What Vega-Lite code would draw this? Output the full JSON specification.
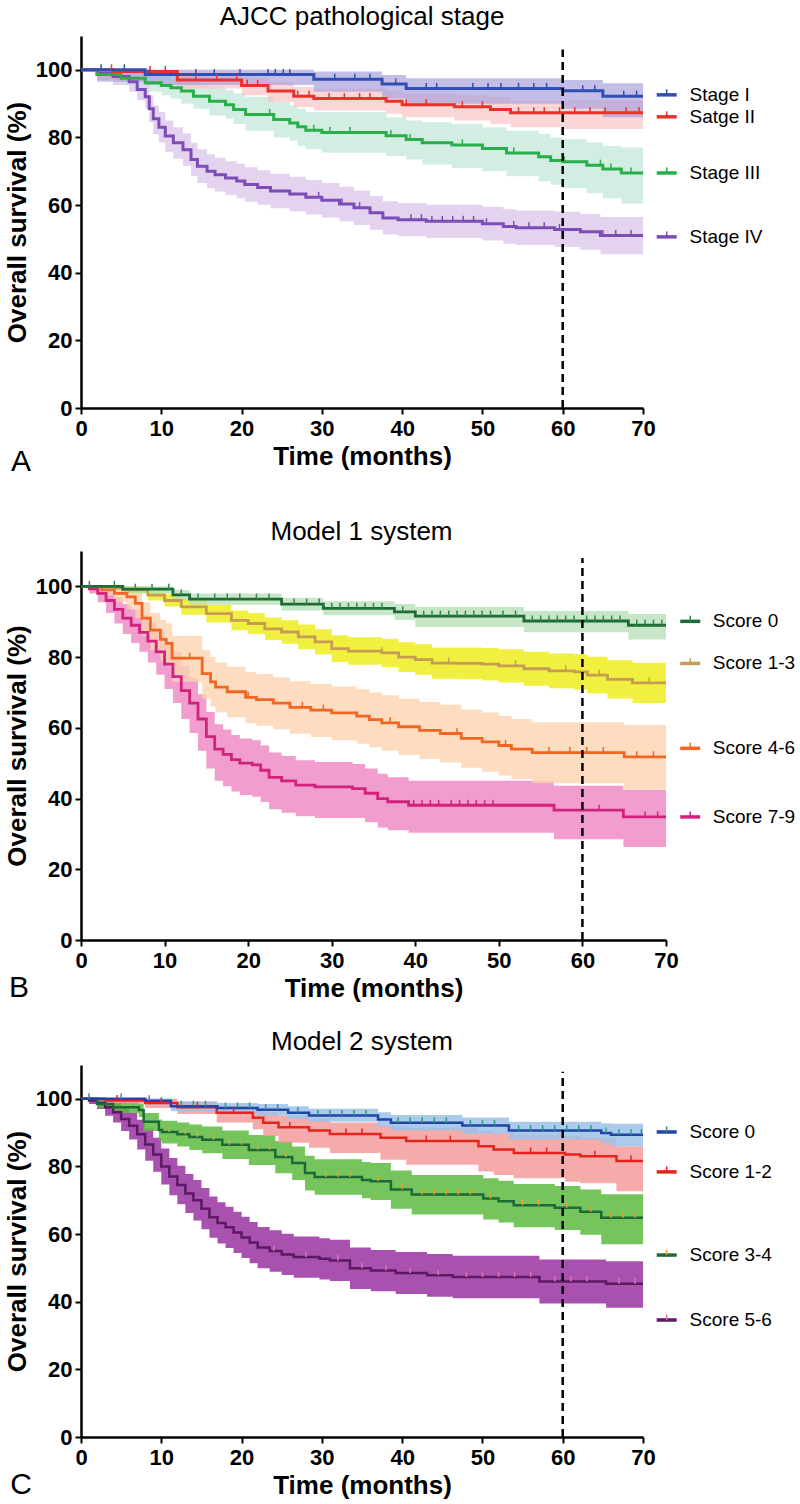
{
"$schema": "https://vega.github.io/schema/vega-lite/v6.json",
"padding": {"left": 4, "top": 4, "right": 0, "bottom": 2},
"config": {
  "font": "Liberation Sans",
  "view": {"stroke": null},
  "title": {"font": "Liberation Sans", "fontSize": 26, "fontWeight": "normal", "color": "black", "anchor": "middle"},
  "axis": {"grid": false, "domainColor": "black", "domainWidth": 2.5, "tickColor": "black", "tickWidth": 2, "tickSize": 6,
    "labelFont": "Liberation Sans", "labelFontSize": 22, "labelFontWeight": "bold", "labelColor": "black",
    "titleFont": "Liberation Sans", "titleFontSize": 26, "titleFontWeight": "bold", "titleColor": "black"}
},
"datasets": {
"A": [
{"series":"Stage IV","t":0,"s":100,"lo":100,"hi":100},{"series":"Stage IV","t":2,"s":99,"lo":97,"hi":100},{"series":"Stage IV","t":4,"s":98,"lo":95.5,"hi":100},{"series":"Stage IV","t":6,"s":96.5,"lo":93.5,"hi":99.5},{"series":"Stage IV","t":7,"s":94.2,"lo":91,"hi":97.5},{"series":"Stage IV","t":8,"s":92,"lo":88.5,"hi":95.5},{"series":"Stage IV","t":8.5,"s":88.5,"lo":84.5,"hi":92.5},{"series":"Stage IV","t":9,"s":85.5,"lo":81,"hi":89.5},{"series":"Stage IV","t":9.7,"s":83,"lo":78.5,"hi":87.5},{"series":"Stage IV","t":10.5,"s":80.4,"lo":75.8,"hi":85},{"series":"Stage IV","t":11.5,"s":78.4,"lo":73.7,"hi":83},{"series":"Stage IV","t":12.7,"s":76.4,"lo":71.6,"hi":81.2},{"series":"Stage IV","t":13.7,"s":73.5,"lo":68.6,"hi":78.4},{"series":"Stage IV","t":14.5,"s":71.5,"lo":66.5,"hi":76.5},{"series":"Stage IV","t":15.7,"s":70,"lo":65,"hi":75},{"series":"Stage IV","t":16.7,"s":69,"lo":64,"hi":74},{"series":"Stage IV","t":18,"s":68,"lo":63,"hi":73},{"series":"Stage IV","t":19.4,"s":67.1,"lo":62,"hi":72.2},{"series":"Stage IV","t":20.4,"s":66.1,"lo":61,"hi":71.2},{"series":"Stage IV","t":22,"s":65.2,"lo":60.1,"hi":70.3},{"series":"Stage IV","t":23.6,"s":64.2,"lo":59.1,"hi":69.3},{"series":"Stage IV","t":26,"s":63.3,"lo":58.2,"hi":68.4},{"series":"Stage IV","t":28,"s":62.3,"lo":57.2,"hi":67.4},{"series":"Stage IV","t":30,"s":61.4,"lo":56.3,"hi":66.5},{"series":"Stage IV","t":32.2,"s":60.3,"lo":55.2,"hi":65.4},{"series":"Stage IV","t":34,"s":59.2,"lo":54.1,"hi":64.3},{"series":"Stage IV","t":36,"s":57.7,"lo":52.7,"hi":62.7},{"series":"Stage IV","t":37.6,"s":56.2,"lo":51.3,"hi":61.1},{"series":"Stage IV","t":39.5,"s":55.7,"lo":50.8,"hi":60.6},{"series":"Stage IV","t":43,"s":55.2,"lo":50.3,"hi":60.1},{"series":"Stage IV","t":50,"s":54.5,"lo":49.5,"hi":59.5},{"series":"Stage IV","t":52.6,"s":53.7,"lo":48.6,"hi":58.8},{"series":"Stage IV","t":54.2,"s":53.3,"lo":48.2,"hi":58.4},{"series":"Stage IV","t":59,"s":52.8,"lo":47.6,"hi":58},{"series":"Stage IV","t":62.2,"s":52.1,"lo":46.8,"hi":57.4},{"series":"Stage IV","t":64.7,"s":51,"lo":45.5,"hi":56.5},{"series":"Stage IV","t":70,"s":51,"lo":45.5,"hi":56.5},
{"series":"Stage III","t":0,"s":100,"lo":100,"hi":100},{"series":"Stage III","t":2,"s":98.6,"lo":97,"hi":99.8},{"series":"Stage III","t":5,"s":97.5,"lo":95.5,"hi":99.3},{"series":"Stage III","t":8,"s":96.2,"lo":93.5,"hi":98.5},{"series":"Stage III","t":10,"s":95.4,"lo":92.5,"hi":98},{"series":"Stage III","t":11.2,"s":94.7,"lo":91.5,"hi":97.5},{"series":"Stage III","t":12.5,"s":93.7,"lo":90,"hi":97},{"series":"Stage III","t":14,"s":92.2,"lo":88.5,"hi":96},{"series":"Stage III","t":16,"s":90.7,"lo":86.5,"hi":95},{"series":"Stage III","t":18,"s":89.7,"lo":85.5,"hi":94},{"series":"Stage III","t":19,"s":88.3,"lo":84,"hi":93},{"series":"Stage III","t":20.5,"s":86.8,"lo":82,"hi":92},{"series":"Stage III","t":24,"s":85.3,"lo":80,"hi":90.5},{"series":"Stage III","t":26,"s":84.3,"lo":79,"hi":89.5},{"series":"Stage III","t":27,"s":83.2,"lo":77.5,"hi":88.5},{"series":"Stage III","t":28,"s":82.1,"lo":76.5,"hi":87.5},{"series":"Stage III","t":30,"s":81.5,"lo":75.5,"hi":87.5},{"series":"Stage III","t":38,"s":80.5,"lo":74.5,"hi":86},{"series":"Stage III","t":40.5,"s":79.4,"lo":73.5,"hi":85},{"series":"Stage III","t":42.5,"s":78.4,"lo":72,"hi":84.5},{"series":"Stage III","t":46.2,"s":77.8,"lo":71,"hi":84},{"series":"Stage III","t":50,"s":76.7,"lo":70,"hi":83},{"series":"Stage III","t":53,"s":75.4,"lo":68.5,"hi":82},{"series":"Stage III","t":57,"s":74.3,"lo":67,"hi":81},{"series":"Stage III","t":58.5,"s":73.2,"lo":66,"hi":80},{"series":"Stage III","t":60,"s":72.8,"lo":65,"hi":79.5},{"series":"Stage III","t":63,"s":71.8,"lo":63.5,"hi":78.5},{"series":"Stage III","t":65,"s":70.7,"lo":62,"hi":77.5},{"series":"Stage III","t":67.3,"s":69.5,"lo":60.5,"hi":77},{"series":"Stage III","t":70,"s":69.5,"lo":60.5,"hi":77},
{"series":"Satge II","t":0,"s":100,"lo":100,"hi":100},{"series":"Satge II","t":4,"s":99.5,"lo":98,"hi":100},{"series":"Satge II","t":12,"s":97,"lo":94.5,"hi":99},{"series":"Satge II","t":20,"s":95.4,"lo":92.5,"hi":97.8},{"series":"Satge II","t":23.3,"s":93.7,"lo":90.5,"hi":96.5},{"series":"Satge II","t":26.5,"s":92.2,"lo":89,"hi":95},{"series":"Satge II","t":29,"s":91.5,"lo":88,"hi":94.5},{"series":"Satge II","t":38,"s":90.7,"lo":87,"hi":93.8},{"series":"Satge II","t":40,"s":89.7,"lo":86,"hi":93},{"series":"Satge II","t":46.5,"s":89.1,"lo":85,"hi":92.5},{"series":"Satge II","t":51,"s":88.3,"lo":84,"hi":92},{"series":"Satge II","t":53.5,"s":87.3,"lo":83,"hi":91},{"series":"Satge II","t":60,"s":87.3,"lo":82.5,"hi":91},{"series":"Satge II","t":70,"s":87.3,"lo":82.5,"hi":91},
{"series":"Stage I","t":0,"s":100,"lo":100,"hi":100},{"series":"Stage I","t":2,"s":100,"lo":96.5,"hi":100},{"series":"Stage I","t":8,"s":98.6,"lo":95.5,"hi":100},{"series":"Stage I","t":29,"s":97.2,"lo":93.5,"hi":99.5},{"series":"Stage I","t":37.5,"s":95.8,"lo":91.5,"hi":98.5},{"series":"Stage I","t":40.5,"s":94.5,"lo":90,"hi":97.5},{"series":"Stage I","t":60,"s":93.8,"lo":88.5,"hi":97},{"series":"Stage I","t":65,"s":92.2,"lo":86,"hi":96},{"series":"Stage I","t":70,"s":92.2,"lo":86,"hi":96}
],
"Ac": [
{"series":"Stage I","t":2.5,"s":100},{"series":"Stage I","t":5.4,"s":100},{"series":"Stage I","t":8.5,"s":98.6},{"series":"Stage I","t":14.3,"s":98.6},{"series":"Stage I","t":16.6,"s":98.6},{"series":"Stage I","t":19.8,"s":98.6},{"series":"Stage I","t":23.3,"s":98.6},{"series":"Stage I","t":24.2,"s":98.6},{"series":"Stage I","t":25.2,"s":98.6},{"series":"Stage I","t":26,"s":98.6},{"series":"Stage I","t":31.6,"s":97.2},{"series":"Stage I","t":34.1,"s":97.2},{"series":"Stage I","t":36,"s":97.2},{"series":"Stage I","t":39.2,"s":95.8},{"series":"Stage I","t":43,"s":94.5},{"series":"Stage I","t":44.3,"s":94.5},{"series":"Stage I","t":48.8,"s":94.5},{"series":"Stage I","t":50.7,"s":94.5},{"series":"Stage I","t":52.3,"s":94.5},{"series":"Stage I","t":54.5,"s":94.5},{"series":"Stage I","t":56.4,"s":94.5},{"series":"Stage I","t":58,"s":94.5},{"series":"Stage I","t":62.5,"s":93.8},{"series":"Stage I","t":64,"s":93.8},{"series":"Stage I","t":67.6,"s":92.2},{"series":"Stage I","t":69.2,"s":92.2},
{"series":"Satge II","t":3.8,"s":100},{"series":"Satge II","t":8.6,"s":99.5},{"series":"Satge II","t":10.5,"s":99.5},{"series":"Satge II","t":14.3,"s":97},{"series":"Satge II","t":16.9,"s":97},{"series":"Satge II","t":19.4,"s":97},{"series":"Satge II","t":20.7,"s":95.4},{"series":"Satge II","t":22,"s":95.4},{"series":"Satge II","t":27,"s":92.2},{"series":"Satge II","t":28.4,"s":92.2},{"series":"Satge II","t":30.9,"s":91.5},{"series":"Satge II","t":32.8,"s":91.5},{"series":"Satge II","t":34.7,"s":91.5},{"series":"Satge II","t":36,"s":91.5},{"series":"Satge II","t":40.5,"s":89.7},{"series":"Satge II","t":43,"s":89.7},{"series":"Satge II","t":47.5,"s":89.1},{"series":"Satge II","t":50,"s":89.1},{"series":"Satge II","t":54.5,"s":87.3},{"series":"Satge II","t":56.4,"s":87.3},{"series":"Satge II","t":57.7,"s":87.3},{"series":"Satge II","t":59.6,"s":87.3},{"series":"Satge II","t":61.5,"s":87.3},{"series":"Satge II","t":63.4,"s":87.3},{"series":"Satge II","t":65.3,"s":87.3},{"series":"Satge II","t":67.9,"s":87.3},{"series":"Satge II","t":69.5,"s":87.3},
{"series":"Stage III","t":23.5,"s":86.8},{"series":"Stage III","t":29,"s":82.1},{"series":"Stage III","t":31,"s":81.5},{"series":"Stage III","t":33.5,"s":81.5},{"series":"Stage III","t":38.6,"s":80.5},{"series":"Stage III","t":41,"s":79.4},{"series":"Stage III","t":47.5,"s":77.8},{"series":"Stage III","t":53.9,"s":75.4},{"series":"Stage III","t":60.2,"s":72.8},{"series":"Stage III","t":64.7,"s":71.8},{"series":"Stage III","t":66,"s":70.7},{"series":"Stage III","t":68.5,"s":69.5},
{"series":"Stage IV","t":29.6,"s":62.3},{"series":"Stage IV","t":32.5,"s":60.3},{"series":"Stage IV","t":34.7,"s":59.2},{"series":"Stage IV","t":41.1,"s":55.7},{"series":"Stage IV","t":42.4,"s":55.7},{"series":"Stage IV","t":43.7,"s":55.2},{"series":"Stage IV","t":45,"s":55.2},{"series":"Stage IV","t":46.3,"s":55.2},{"series":"Stage IV","t":47.6,"s":55.2},{"series":"Stage IV","t":48.9,"s":55.2},{"series":"Stage IV","t":50.5,"s":54.5},{"series":"Stage IV","t":53.9,"s":53.7},{"series":"Stage IV","t":55.8,"s":53.3},{"series":"Stage IV","t":57.7,"s":53.3},{"series":"Stage IV","t":59.6,"s":52.8},{"series":"Stage IV","t":65,"s":51},{"series":"Stage IV","t":66.6,"s":51},{"series":"Stage IV","t":68.5,"s":51}
],
"Al": [
{"series":"Stage I","level":92.6},{"series":"Satge II","level":86.1},{"series":"Stage III","level":69.5},{"series":"Stage IV","level":50.6}
],
"B": [
{"series":"Score 7-9","t":0,"s":100,"lo":100,"hi":100},{"series":"Score 7-9","t":1,"s":99.3,"lo":98,"hi":100},{"series":"Score 7-9","t":2,"s":98,"lo":95.5,"hi":100},{"series":"Score 7-9","t":3,"s":96,"lo":92.5,"hi":99},{"series":"Score 7-9","t":4,"s":93.5,"lo":89.5,"hi":97},{"series":"Score 7-9","t":5,"s":91,"lo":86.5,"hi":95},{"series":"Score 7-9","t":6,"s":89,"lo":84,"hi":93.5},{"series":"Score 7-9","t":7,"s":87,"lo":81.5,"hi":92},{"series":"Score 7-9","t":8,"s":84.5,"lo":78.5,"hi":90},{"series":"Score 7-9","t":9,"s":81.5,"lo":75,"hi":87.5},{"series":"Score 7-9","t":10,"s":78,"lo":71,"hi":84.5},{"series":"Score 7-9","t":11,"s":74.5,"lo":67,"hi":81.5},{"series":"Score 7-9","t":12,"s":70.5,"lo":62.5,"hi":77.5},{"series":"Score 7-9","t":13,"s":67,"lo":58.5,"hi":74},{"series":"Score 7-9","t":14,"s":62.5,"lo":53.5,"hi":69.5},{"series":"Score 7-9","t":15,"s":57.5,"lo":48.5,"hi":64.5},{"series":"Score 7-9","t":16,"s":54,"lo":45,"hi":61},{"series":"Score 7-9","t":17,"s":52.5,"lo":43.5,"hi":59.5},{"series":"Score 7-9","t":18,"s":51,"lo":42,"hi":58},{"series":"Score 7-9","t":19,"s":50,"lo":41,"hi":57},{"series":"Score 7-9","t":20.5,"s":49.5,"lo":40.5,"hi":56.5},{"series":"Score 7-9","t":21.5,"s":48,"lo":39,"hi":55},{"series":"Score 7-9","t":22.5,"s":46,"lo":37,"hi":53},{"series":"Score 7-9","t":24,"s":45,"lo":36,"hi":52},{"series":"Score 7-9","t":25.7,"s":43.8,"lo":35,"hi":50.8},{"series":"Score 7-9","t":28,"s":43.3,"lo":34.5,"hi":50.3},{"series":"Score 7-9","t":32.5,"s":42.8,"lo":34.5,"hi":49.8},{"series":"Score 7-9","t":34,"s":41.5,"lo":33.3,"hi":48.5},{"series":"Score 7-9","t":35.5,"s":40,"lo":31.8,"hi":47},{"series":"Score 7-9","t":36.7,"s":39.1,"lo":31,"hi":46},{"series":"Score 7-9","t":39.2,"s":38.1,"lo":30.3,"hi":45},{"series":"Score 7-9","t":56.6,"s":36.7,"lo":28.5,"hi":43.6},{"series":"Score 7-9","t":64.9,"s":34.8,"lo":26.3,"hi":42.4},{"series":"Score 7-9","t":70,"s":34.8,"lo":26.3,"hi":42.4},
{"series":"Score 4-6","t":0,"s":100,"lo":100,"hi":100},{"series":"Score 4-6","t":2.5,"s":99,"lo":97.5,"hi":100},{"series":"Score 4-6","t":4,"s":98,"lo":95.5,"hi":100},{"series":"Score 4-6","t":5.5,"s":97,"lo":93.5,"hi":99.5},{"series":"Score 4-6","t":6.5,"s":95.2,"lo":91,"hi":98.5},{"series":"Score 4-6","t":7.3,"s":91,"lo":86,"hi":95.5},{"series":"Score 4-6","t":8.3,"s":87.6,"lo":82,"hi":92.5},{"series":"Score 4-6","t":9.5,"s":85,"lo":79,"hi":90.5},{"series":"Score 4-6","t":10.2,"s":83.9,"lo":77.5,"hi":89.5},{"series":"Score 4-6","t":10.9,"s":79.7,"lo":73,"hi":86},{"series":"Score 4-6","t":14.5,"s":75.3,"lo":68.3,"hi":82},{"series":"Score 4-6","t":15.5,"s":73,"lo":66,"hi":80},{"series":"Score 4-6","t":16.1,"s":71.5,"lo":64.3,"hi":78.5},{"series":"Score 4-6","t":17.5,"s":70.2,"lo":63,"hi":77.3},{"series":"Score 4-6","t":19.7,"s":68.6,"lo":61.3,"hi":75.8},{"series":"Score 4-6","t":21,"s":68,"lo":60.6,"hi":75.2},{"series":"Score 4-6","t":23,"s":67,"lo":59.6,"hi":74.3},{"series":"Score 4-6","t":25,"s":65.8,"lo":58.3,"hi":73.2},{"series":"Score 4-6","t":27.5,"s":65,"lo":57.4,"hi":72.4},{"series":"Score 4-6","t":30,"s":64.2,"lo":56.5,"hi":71.7},{"series":"Score 4-6","t":33,"s":63.3,"lo":55.5,"hi":70.9},{"series":"Score 4-6","t":34.5,"s":62.3,"lo":54.5,"hi":70},{"series":"Score 4-6","t":36,"s":61.4,"lo":53.5,"hi":69.2},{"series":"Score 4-6","t":38,"s":60.3,"lo":52.3,"hi":68.2},{"series":"Score 4-6","t":40.5,"s":59.3,"lo":51.2,"hi":67.3},{"series":"Score 4-6","t":43,"s":58.4,"lo":50.2,"hi":66.5},{"series":"Score 4-6","t":45.5,"s":57,"lo":48.7,"hi":65.2},{"series":"Score 4-6","t":48,"s":56,"lo":47.6,"hi":64.3},{"series":"Score 4-6","t":50,"s":55,"lo":46.5,"hi":63.4},{"series":"Score 4-6","t":51.5,"s":54,"lo":45.5,"hi":62.5},{"series":"Score 4-6","t":54,"s":53,"lo":44.3,"hi":61.6},{"series":"Score 4-6","t":65,"s":51.8,"lo":42.5,"hi":60.8},{"series":"Score 4-6","t":70,"s":51.8,"lo":42.5,"hi":60.8},
{"series":"Score 1-3","t":0,"s":100,"lo":100,"hi":100},{"series":"Score 1-3","t":3,"s":99.5,"lo":99,"hi":100},{"series":"Score 1-3","t":5,"s":99,"lo":98,"hi":100},{"series":"Score 1-3","t":8,"s":97.5,"lo":96,"hi":99},{"series":"Score 1-3","t":10,"s":96,"lo":94.3,"hi":97.8},{"series":"Score 1-3","t":12,"s":94.2,"lo":92,"hi":96.5},{"series":"Score 1-3","t":15,"s":92.3,"lo":89.8,"hi":94.8},{"series":"Score 1-3","t":18,"s":90.4,"lo":87.6,"hi":93.2},{"series":"Score 1-3","t":20,"s":89.5,"lo":86.5,"hi":92.5},{"series":"Score 1-3","t":22,"s":88,"lo":84.8,"hi":91.2},{"series":"Score 1-3","t":24,"s":87.1,"lo":83.8,"hi":90.4},{"series":"Score 1-3","t":26,"s":85.7,"lo":82.2,"hi":89.2},{"series":"Score 1-3","t":28,"s":84.3,"lo":80.7,"hi":87.9},{"series":"Score 1-3","t":30,"s":82.4,"lo":78.6,"hi":86.2},{"series":"Score 1-3","t":32,"s":81.7,"lo":77.8,"hi":85.6},{"series":"Score 1-3","t":36,"s":81.2,"lo":77.2,"hi":85.2},{"series":"Score 1-3","t":38,"s":80,"lo":75.8,"hi":84.2},{"series":"Score 1-3","t":40,"s":79.3,"lo":75,"hi":83.6},{"series":"Score 1-3","t":42,"s":78.3,"lo":73.9,"hi":82.7},{"series":"Score 1-3","t":45,"s":78.2,"lo":73.7,"hi":82.7},{"series":"Score 1-3","t":48,"s":78,"lo":73.4,"hi":82.6},{"series":"Score 1-3","t":50,"s":77.5,"lo":72.8,"hi":82.2},{"series":"Score 1-3","t":53,"s":76.7,"lo":71.9,"hi":81.5},{"series":"Score 1-3","t":56,"s":76.1,"lo":71.2,"hi":81},{"series":"Score 1-3","t":59,"s":75.8,"lo":70.8,"hi":80.8},{"series":"Score 1-3","t":60.6,"s":74.9,"lo":69.7,"hi":80.1},{"series":"Score 1-3","t":63,"s":73.7,"lo":68.3,"hi":79.1},{"series":"Score 1-3","t":66,"s":72.7,"lo":67,"hi":78.4},{"series":"Score 1-3","t":70,"s":72.7,"lo":67,"hi":78.4},
{"series":"Score 0","t":0,"s":100,"lo":100,"hi":100},{"series":"Score 0","t":5,"s":99.2,"lo":98,"hi":100},{"series":"Score 0","t":11,"s":97.6,"lo":96,"hi":99},{"series":"Score 0","t":13,"s":96.4,"lo":94.8,"hi":98},{"series":"Score 0","t":24,"s":95,"lo":93.2,"hi":96.8},{"series":"Score 0","t":29,"s":93.8,"lo":91.8,"hi":95.8},{"series":"Score 0","t":37.5,"s":92.8,"lo":90.5,"hi":95},{"series":"Score 0","t":40,"s":91.6,"lo":88.5,"hi":94.2},{"series":"Score 0","t":53,"s":90.2,"lo":87,"hi":93},{"series":"Score 0","t":65.5,"s":89,"lo":85,"hi":92.2},{"series":"Score 0","t":70,"s":89,"lo":85,"hi":92.2}
],
"Bc": [
{"series":"Score 0","t":1,"s":100},{"series":"Score 0","t":4,"s":100},{"series":"Score 0","t":6.5,"s":99.2},{"series":"Score 0","t":8.5,"s":99.2},{"series":"Score 0","t":10.5,"s":99.2},{"series":"Score 0","t":12,"s":97.6},{"series":"Score 0","t":14,"s":96.4},{"series":"Score 0","t":16,"s":96.4},{"series":"Score 0","t":17.5,"s":96.4},{"series":"Score 0","t":19,"s":96.4},{"series":"Score 0","t":21,"s":96.4},{"series":"Score 0","t":22.5,"s":96.4},{"series":"Score 0","t":25.5,"s":95},{"series":"Score 0","t":27,"s":95},{"series":"Score 0","t":28.5,"s":95},{"series":"Score 0","t":30,"s":93.8},{"series":"Score 0","t":31,"s":93.8},{"series":"Score 0","t":32,"s":93.8},{"series":"Score 0","t":33,"s":93.8},{"series":"Score 0","t":34,"s":93.8},{"series":"Score 0","t":35,"s":93.8},{"series":"Score 0","t":36,"s":93.8},{"series":"Score 0","t":38.5,"s":92.8},{"series":"Score 0","t":41,"s":91.6},{"series":"Score 0","t":42,"s":91.6},{"series":"Score 0","t":43,"s":91.6},{"series":"Score 0","t":44,"s":91.6},{"series":"Score 0","t":45,"s":91.6},{"series":"Score 0","t":46,"s":91.6},{"series":"Score 0","t":47,"s":91.6},{"series":"Score 0","t":48,"s":91.6},{"series":"Score 0","t":49,"s":91.6},{"series":"Score 0","t":50.5,"s":91.6},{"series":"Score 0","t":52,"s":91.6},{"series":"Score 0","t":54,"s":90.2},{"series":"Score 0","t":55,"s":90.2},{"series":"Score 0","t":56,"s":90.2},{"series":"Score 0","t":57,"s":90.2},{"series":"Score 0","t":58,"s":90.2},{"series":"Score 0","t":59,"s":90.2},{"series":"Score 0","t":60.5,"s":90.2},{"series":"Score 0","t":61.5,"s":90.2},{"series":"Score 0","t":62.5,"s":90.2},{"series":"Score 0","t":63.5,"s":90.2},{"series":"Score 0","t":64.5,"s":90.2},{"series":"Score 0","t":66.5,"s":89},{"series":"Score 0","t":67.5,"s":89},{"series":"Score 0","t":68.5,"s":89},{"series":"Score 0","t":69.5,"s":89},
{"series":"Score 1-3","t":28,"s":84.3},{"series":"Score 1-3","t":36,"s":81.2},{"series":"Score 1-3","t":44,"s":78.3},{"series":"Score 1-3","t":52,"s":77.5},{"series":"Score 1-3","t":58,"s":76.1},{"series":"Score 1-3","t":62,"s":74.9},{"series":"Score 1-3","t":68,"s":72.7},
{"series":"Score 4-6","t":13,"s":79.7},{"series":"Score 4-6","t":20,"s":68.6},{"series":"Score 4-6","t":26.5,"s":65.8},{"series":"Score 4-6","t":29,"s":65},{"series":"Score 4-6","t":37,"s":61.4},{"series":"Score 4-6","t":45,"s":58.4},{"series":"Score 4-6","t":50.8,"s":55},{"series":"Score 4-6","t":56,"s":53},{"series":"Score 4-6","t":58.5,"s":53},{"series":"Score 4-6","t":60.5,"s":53},{"series":"Score 4-6","t":62.5,"s":53},{"series":"Score 4-6","t":66.5,"s":51.8},{"series":"Score 4-6","t":68.5,"s":51.8},
{"series":"Score 7-9","t":39.8,"s":38.1},{"series":"Score 7-9","t":40.8,"s":38.1},{"series":"Score 7-9","t":41.8,"s":38.1},{"series":"Score 7-9","t":42.8,"s":38.1},{"series":"Score 7-9","t":44.3,"s":38.1},{"series":"Score 7-9","t":45.3,"s":38.1},{"series":"Score 7-9","t":46.3,"s":38.1},{"series":"Score 7-9","t":47.3,"s":38.1},{"series":"Score 7-9","t":48.3,"s":38.1},{"series":"Score 7-9","t":49.3,"s":38.1},{"series":"Score 7-9","t":62,"s":36.7},{"series":"Score 7-9","t":67.5,"s":34.8},{"series":"Score 7-9","t":69,"s":34.8}
],
"Bl": [
{"series":"Score 0","level":90.1},{"series":"Score 1-3","level":78.2},{"series":"Score 4-6","level":54.2},{"series":"Score 7-9","level":34.8}
],
"C": [
{"series":"Score 5-6","t":0,"s":100,"lo":100,"hi":100},{"series":"Score 5-6","t":1,"s":99.5,"lo":98.5,"hi":100},{"series":"Score 5-6","t":2,"s":98.8,"lo":97,"hi":100},{"series":"Score 5-6","t":3,"s":97.5,"lo":95,"hi":99.5},{"series":"Score 5-6","t":4,"s":96,"lo":93,"hi":98.8},{"series":"Score 5-6","t":5,"s":94,"lo":90.5,"hi":97.3},{"series":"Score 5-6","t":6,"s":92,"lo":88,"hi":95.8},{"series":"Score 5-6","t":7,"s":89.5,"lo":85,"hi":93.8},{"series":"Score 5-6","t":8,"s":86.5,"lo":81.7,"hi":91.2},{"series":"Score 5-6","t":9,"s":83.5,"lo":78.4,"hi":88.5},{"series":"Score 5-6","t":10,"s":80,"lo":74.7,"hi":85.3},{"series":"Score 5-6","t":11,"s":77,"lo":71.5,"hi":82.5},{"series":"Score 5-6","t":12,"s":74.5,"lo":68.8,"hi":80.2},{"series":"Score 5-6","t":13,"s":72,"lo":66.2,"hi":77.8},{"series":"Score 5-6","t":14,"s":70,"lo":64,"hi":76},{"series":"Score 5-6","t":15,"s":67.5,"lo":61.4,"hi":73.6},{"series":"Score 5-6","t":16,"s":65,"lo":58.9,"hi":71.1},{"series":"Score 5-6","t":17,"s":63.3,"lo":57.2,"hi":69.4},{"series":"Score 5-6","t":18,"s":62,"lo":55.9,"hi":68.1},{"series":"Score 5-6","t":19,"s":60.5,"lo":54.4,"hi":66.6},{"series":"Score 5-6","t":20,"s":59,"lo":52.9,"hi":65.1},{"series":"Score 5-6","t":21,"s":57.5,"lo":51.4,"hi":63.6},{"series":"Score 5-6","t":22,"s":56,"lo":49.9,"hi":62.1},{"series":"Score 5-6","t":23.5,"s":55,"lo":48.9,"hi":61.1},{"series":"Score 5-6","t":25,"s":54,"lo":47.9,"hi":60.1},{"series":"Score 5-6","t":26.5,"s":53.2,"lo":47.1,"hi":59.3},{"series":"Score 5-6","t":29.7,"s":52.7,"lo":46.6,"hi":58.8},{"series":"Score 5-6","t":31,"s":52.2,"lo":46.1,"hi":58.3},{"series":"Score 5-6","t":33.5,"s":49.9,"lo":43.8,"hi":56},{"series":"Score 5-6","t":36.1,"s":49.2,"lo":43.1,"hi":55.3},{"series":"Score 5-6","t":39.2,"s":48.5,"lo":42.3,"hi":54.7},{"series":"Score 5-6","t":43.1,"s":47.8,"lo":41.5,"hi":54.1},{"series":"Score 5-6","t":46.3,"s":47.3,"lo":41,"hi":53.6},{"series":"Score 5-6","t":57.1,"s":46,"lo":39.5,"hi":52.5},{"series":"Score 5-6","t":65.4,"s":45.3,"lo":38.2,"hi":52},{"series":"Score 5-6","t":70,"s":45.3,"lo":38.2,"hi":52},
{"series":"Score 3-4","t":0,"s":100,"lo":100,"hi":100},{"series":"Score 3-4","t":2,"s":98.5,"lo":97.3,"hi":99.6},{"series":"Score 3-4","t":4,"s":97.5,"lo":95.8,"hi":99.1},{"series":"Score 3-4","t":7.2,"s":96.7,"lo":94.6,"hi":98.6},{"series":"Score 3-4","t":7.8,"s":93.2,"lo":90.5,"hi":95.8},{"series":"Score 3-4","t":9.7,"s":90.8,"lo":87.6,"hi":93.9},{"series":"Score 3-4","t":10.1,"s":90.2,"lo":86.8,"hi":93.5},{"series":"Score 3-4","t":12,"s":89.5,"lo":85.9,"hi":93},{"series":"Score 3-4","t":13.5,"s":88.7,"lo":84.9,"hi":92.4},{"series":"Score 3-4","t":15.1,"s":87.9,"lo":83.9,"hi":91.8},{"series":"Score 3-4","t":17.6,"s":86.4,"lo":82.2,"hi":90.6},{"series":"Score 3-4","t":20.9,"s":84.9,"lo":80.4,"hi":89.3},{"series":"Score 3-4","t":24.2,"s":82.8,"lo":78,"hi":87.5},{"series":"Score 3-4","t":26.3,"s":81,"lo":76,"hi":85.9},{"series":"Score 3-4","t":27.9,"s":78.1,"lo":72.9,"hi":83.2},{"series":"Score 3-4","t":29.1,"s":76.9,"lo":71.6,"hi":82.1},{"series":"Score 3-4","t":35,"s":76,"lo":70.6,"hi":81.3},{"series":"Score 3-4","t":36.1,"s":75.6,"lo":70.1,"hi":81},{"series":"Score 3-4","t":38.6,"s":73.2,"lo":67.5,"hi":78.8},{"series":"Score 3-4","t":41.2,"s":71.7,"lo":65.8,"hi":77.5},{"series":"Score 3-4","t":50.1,"s":70.5,"lo":64.3,"hi":76.5},{"series":"Score 3-4","t":52,"s":69.7,"lo":63.4,"hi":75.8},{"series":"Score 3-4","t":53.9,"s":68.5,"lo":62,"hi":74.8},{"series":"Score 3-4","t":59,"s":67.8,"lo":61.2,"hi":74.2},{"series":"Score 3-4","t":62.2,"s":66.6,"lo":59.8,"hi":73.2},{"series":"Score 3-4","t":64.8,"s":64.8,"lo":57,"hi":71.8},{"series":"Score 3-4","t":70,"s":64.8,"lo":57,"hi":71.8},
{"series":"Score 1-2","t":0,"s":100,"lo":100,"hi":100},{"series":"Score 1-2","t":3,"s":99.5,"lo":98.7,"hi":100},{"series":"Score 1-2","t":8,"s":98.8,"lo":97.3,"hi":100},{"series":"Score 1-2","t":12,"s":97.5,"lo":95.5,"hi":99.2},{"series":"Score 1-2","t":16.9,"s":95.9,"lo":93,"hi":98},{"series":"Score 1-2","t":21.4,"s":94.4,"lo":91,"hi":97},{"series":"Score 1-2","t":22.7,"s":92.9,"lo":89,"hi":96},{"series":"Score 1-2","t":24.6,"s":91.6,"lo":87,"hi":95},{"series":"Score 1-2","t":28.4,"s":90.6,"lo":85.5,"hi":94},{"series":"Score 1-2","t":31,"s":89.6,"lo":84,"hi":93},{"series":"Score 1-2","t":37.3,"s":88.5,"lo":82,"hi":92},{"series":"Score 1-2","t":40.5,"s":87.5,"lo":80.5,"hi":91.5},{"series":"Score 1-2","t":49.5,"s":86,"lo":78.5,"hi":90.5},{"series":"Score 1-2","t":51.4,"s":85,"lo":77.5,"hi":90},{"series":"Score 1-2","t":53.9,"s":84,"lo":76.5,"hi":89.5},{"series":"Score 1-2","t":60.3,"s":83.5,"lo":75.5,"hi":89},{"series":"Score 1-2","t":62.2,"s":83,"lo":75,"hi":88.5},{"series":"Score 1-2","t":66.7,"s":81.6,"lo":72.7,"hi":86},{"series":"Score 1-2","t":70,"s":81.6,"lo":72.7,"hi":86},
{"series":"Score 0","t":0,"s":100,"lo":100,"hi":100},{"series":"Score 0","t":8,"s":99.4,"lo":98.3,"hi":100},{"series":"Score 0","t":11.2,"s":97.8,"lo":96.3,"hi":99.2},{"series":"Score 0","t":17,"s":97.3,"lo":95.6,"hi":98.8},{"series":"Score 0","t":22,"s":96.8,"lo":95,"hi":98.5},{"series":"Score 0","t":25.8,"s":95.9,"lo":94,"hi":97.8},{"series":"Score 0","t":28.4,"s":95.1,"lo":93.2,"hi":97.1},{"series":"Score 0","t":37,"s":93.9,"lo":91.8,"hi":96},{"series":"Score 0","t":38.6,"s":92.9,"lo":90.6,"hi":95.2},{"series":"Score 0","t":47.5,"s":92.1,"lo":89.7,"hi":94.5},{"series":"Score 0","t":53.3,"s":90.6,"lo":88,"hi":93.2},{"series":"Score 0","t":64.8,"s":89.9,"lo":86.8,"hi":92.8},{"series":"Score 0","t":66,"s":89.4,"lo":86,"hi":92.6},{"series":"Score 0","t":70,"s":89.4,"lo":86,"hi":92.6}
],
"Cc": [
{"series":"Score 0","t":1,"s":100},{"series":"Score 0","t":5,"s":100},{"series":"Score 0","t":8.5,"s":99.4},{"series":"Score 0","t":12.5,"s":97.8},{"series":"Score 0","t":14,"s":97.8},{"series":"Score 0","t":15.5,"s":97.8},{"series":"Score 0","t":18,"s":97.3},{"series":"Score 0","t":19.5,"s":97.3},{"series":"Score 0","t":21,"s":97.3},{"series":"Score 0","t":23,"s":96.8},{"series":"Score 0","t":24.5,"s":96.8},{"series":"Score 0","t":27,"s":95.9},{"series":"Score 0","t":29.5,"s":95.1},{"series":"Score 0","t":31,"s":95.1},{"series":"Score 0","t":32.5,"s":95.1},{"series":"Score 0","t":34,"s":95.1},{"series":"Score 0","t":35.5,"s":95.1},{"series":"Score 0","t":39.5,"s":92.9},{"series":"Score 0","t":41,"s":92.9},{"series":"Score 0","t":42.5,"s":92.9},{"series":"Score 0","t":44,"s":92.9},{"series":"Score 0","t":45.5,"s":92.9},{"series":"Score 0","t":48.5,"s":92.1},{"series":"Score 0","t":50,"s":92.1},{"series":"Score 0","t":51.5,"s":92.1},{"series":"Score 0","t":54.5,"s":90.6},{"series":"Score 0","t":56,"s":90.6},{"series":"Score 0","t":57.5,"s":90.6},{"series":"Score 0","t":59,"s":90.6},{"series":"Score 0","t":60.5,"s":90.6},{"series":"Score 0","t":62,"s":90.6},{"series":"Score 0","t":63.5,"s":90.6},{"series":"Score 0","t":65.4,"s":89.9},{"series":"Score 0","t":67,"s":89.4},{"series":"Score 0","t":68.5,"s":89.4},{"series":"Score 0","t":69.8,"s":89.4},
{"series":"Score 1-2","t":4.5,"s":99.5},{"series":"Score 1-2","t":10,"s":98.8},{"series":"Score 1-2","t":14.5,"s":97.5},{"series":"Score 1-2","t":19,"s":95.9},{"series":"Score 1-2","t":26,"s":91.6},{"series":"Score 1-2","t":33,"s":89.6},{"series":"Score 1-2","t":35,"s":89.6},{"series":"Score 1-2","t":43,"s":87.5},{"series":"Score 1-2","t":46,"s":87.5},{"series":"Score 1-2","t":56,"s":84},{"series":"Score 1-2","t":58,"s":84},{"series":"Score 1-2","t":64,"s":83},{"series":"Score 1-2","t":68.5,"s":81.6},
{"series":"Score 3-4","t":11,"s":90.2},{"series":"Score 3-4","t":13,"s":89.5},{"series":"Score 3-4","t":14.5,"s":88.7},{"series":"Score 3-4","t":16.5,"s":87.9},{"series":"Score 3-4","t":18.5,"s":86.4},{"series":"Score 3-4","t":20,"s":86.4},{"series":"Score 3-4","t":22,"s":84.9},{"series":"Score 3-4","t":23.5,"s":84.9},{"series":"Score 3-4","t":25.5,"s":82.8},{"series":"Score 3-4","t":30.5,"s":76.9},{"series":"Score 3-4","t":32,"s":76.9},{"series":"Score 3-4","t":33.5,"s":76.9},{"series":"Score 3-4","t":37,"s":75.6},{"series":"Score 3-4","t":40,"s":73.2},{"series":"Score 3-4","t":42.5,"s":71.7},{"series":"Score 3-4","t":44,"s":71.7},{"series":"Score 3-4","t":45.5,"s":71.7},{"series":"Score 3-4","t":47,"s":71.7},{"series":"Score 3-4","t":48.5,"s":71.7},{"series":"Score 3-4","t":51,"s":70.5},{"series":"Score 3-4","t":55,"s":68.5},{"series":"Score 3-4","t":57,"s":68.5},{"series":"Score 3-4","t":60.5,"s":67.8},{"series":"Score 3-4","t":63.5,"s":66.6},{"series":"Score 3-4","t":66,"s":64.8},{"series":"Score 3-4","t":67.5,"s":64.8},{"series":"Score 3-4","t":69,"s":64.8},
{"series":"Score 5-6","t":24,"s":55},{"series":"Score 5-6","t":28,"s":53.2},{"series":"Score 5-6","t":32,"s":52.2},{"series":"Score 5-6","t":35,"s":49.9},{"series":"Score 5-6","t":38,"s":49.2},{"series":"Score 5-6","t":41,"s":48.5},{"series":"Score 5-6","t":44.5,"s":47.8},{"series":"Score 5-6","t":48,"s":47.3},{"series":"Score 5-6","t":50,"s":47.3},{"series":"Score 5-6","t":52,"s":47.3},{"series":"Score 5-6","t":54,"s":47.3},{"series":"Score 5-6","t":56,"s":47.3},{"series":"Score 5-6","t":59,"s":46},{"series":"Score 5-6","t":61,"s":46},{"series":"Score 5-6","t":63,"s":46},{"series":"Score 5-6","t":67,"s":45.3},{"series":"Score 5-6","t":69,"s":45.3}
],
"Cl": [
{"series":"Score 0","level":90.2},{"series":"Score 1-2","level":78.4},{"series":"Score 3-4","level":53.8},{"series":"Score 5-6","level":34.6}
]
},
"spacing": 42,
"resolve": {"scale": {"x": "independent", "y": "independent", "fill": "independent", "stroke": "independent", "color": "independent"}},
"vconcat": [
{
"title": {"text": "AJCC pathological stage", "offset": 6},
"width": 562, "height": 372,
"layer": [
 {"data": {"name": "A"}, "mark": {"type": "area", "interpolate": "step-after", "opacity": 0.7},
  "encoding": {
   "x": {"field": "t", "type": "quantitative", "title": "Time (months)", "scale": {"domain": [0, 70], "nice": false}, "axis": {"values": [0,10,20,30,40,50,60,70], "labelFlush": false, "labelPadding": 4, "titlePadding": 4}},
   "y": {"field": "lo", "type": "quantitative", "title": "Overall survival (%)", "stack": null, "scale": {"domain": [0, 110], "nice": false}, "axis": {"values": [0,20,40,60,80,100], "labelPadding": 3, "titlePadding": 5}},
   "y2": {"field": "hi"},
   "fill": {"field": "series", "type": "nominal", "legend": null, "scale": {"domain": ["Stage I","Satge II","Stage III","Stage IV"], "range": ["#a9a3dd","#f8c4c6","#bfe7d6","#d7c0e8"]}}
  }},
 {"data": {"name": "A"}, "mark": {"type": "line", "interpolate": "step-after", "strokeWidth": 3},
  "encoding": {
   "x": {"field": "t", "type": "quantitative", "title": "Time (months)"},
   "y": {"field": "s", "type": "quantitative", "title": "Overall survival (%)"},
   "stroke": {"field": "series", "type": "nominal", "legend": null, "scale": {"domain": ["Stage I","Satge II","Stage III","Stage IV"], "range": ["#2f4fb4","#e8332a","#2aad4a","#7d4cb6"]}}
  }},
 {"data": {"name": "Ac"}, "mark": {"type": "point", "shape": "M0,-1L0,0", "filled": false, "size": 121, "strokeWidth": 1.5, "opacity": 1},
  "encoding": {
   "x": {"field": "t", "type": "quantitative", "title": "Time (months)"},
   "y": {"field": "s", "type": "quantitative", "title": "Overall survival (%)"},
   "color": {"field": "series", "type": "nominal", "legend": null, "scale": {"domain": ["Stage I","Satge II","Stage III","Stage IV"], "range": ["#2f4fb4","#e8332a","#2aad4a","#7d4cb6"]}}
  }},
 {"data": {"values": [{"cut": 60}]}, "mark": {"type": "rule", "color": "black", "strokeWidth": 2.5, "strokeDash": [8, 5]},
  "encoding": {"x": {"field": "cut", "type": "quantitative", "title": "Time (months)"}, "y": {"datum": 0, "type": "quantitative"}, "y2": {"datum": 106}}},
 {"data": {"name": "Al"}, "mark": {"type": "point", "shape": "M-1,0L1,0", "filled": false, "size": 400, "strokeWidth": 3.5, "opacity": 1},
  "encoding": {"x": {"datum": 72.95, "type": "quantitative"}, "y": {"field": "level", "type": "quantitative", "title": "Overall survival (%)"}, "stroke": {"field": "series", "type": "nominal", "legend": null}}},
 {"data": {"name": "Al"}, "mark": {"type": "point", "shape": "M0,-1L0,0", "filled": false, "size": 121, "strokeWidth": 1.5, "opacity": 1},
  "encoding": {"x": {"datum": 72.95, "type": "quantitative"}, "y": {"field": "level", "type": "quantitative", "title": "Overall survival (%)"}, "color": {"field": "series", "type": "nominal", "legend": null}}},
 {"data": {"name": "Al"}, "mark": {"type": "text", "align": "left", "baseline": "middle", "fontSize": 19, "color": "black"},
  "encoding": {"x": {"datum": 75.8, "type": "quantitative"}, "y": {"field": "level", "type": "quantitative", "title": "Overall survival (%)"}, "text": {"field": "series", "type": "nominal"}}},
 {"data": {"values": [{"panel": "A"}]}, "mark": {"type": "text", "align": "center", "baseline": "middle", "fontSize": 30, "color": "black", "dx": -60, "dy": 54},
  "encoding": {"x": {"datum": 0, "type": "quantitative"}, "y": {"datum": 0, "type": "quantitative"}, "text": {"field": "panel", "type": "nominal"}}}
]
},
{
"spacing": 26,
"resolve": {"scale": {"x": "independent", "y": "independent", "fill": "independent", "stroke": "independent", "color": "independent"}},
"vconcat": [
{
"title": {"text": "Model 1 system", "offset": 6, "dx": -12},
"width": 585, "height": 389,
"layer": [
 {"data": {"name": "B"}, "mark": {"type": "area", "interpolate": "step-after", "opacity": 0.8},
  "encoding": {
   "x": {"field": "t", "type": "quantitative", "title": "Time (months)", "scale": {"domain": [0, 70], "nice": false}, "axis": {"values": [0,10,20,30,40,50,60,70], "labelFlush": false, "labelPadding": 4, "titlePadding": 4}},
   "y": {"field": "lo", "type": "quantitative", "title": "Overall survival (%)", "stack": null, "scale": {"domain": [0, 110], "nice": false}, "axis": {"values": [0,20,40,60,80,100], "labelPadding": 3, "titlePadding": 5}},
   "y2": {"field": "hi"},
   "fill": {"field": "series", "type": "nominal", "legend": null, "scale": {"domain": ["Score 0","Score 1-3","Score 4-6","Score 7-9"], "range": ["#b8e0b9","#eeec10","#fdd3b0","#ee85c0"]}}
  }},
 {"data": {"name": "B"}, "mark": {"type": "line", "interpolate": "step-after", "strokeWidth": 2.8},
  "encoding": {
   "x": {"field": "t", "type": "quantitative", "title": "Time (months)"},
   "y": {"field": "s", "type": "quantitative", "title": "Overall survival (%)"},
   "stroke": {"field": "series", "type": "nominal", "legend": null, "scale": {"domain": ["Score 0","Score 1-3","Score 4-6","Score 7-9"], "range": ["#1e6b35","#c69c52","#f26522","#d2237c"]}}
  }},
 {"data": {"name": "Bc"}, "mark": {"type": "point", "shape": "M0,-1L0,0", "filled": false, "size": 121, "strokeWidth": 1.5, "opacity": 1},
  "encoding": {
   "x": {"field": "t", "type": "quantitative", "title": "Time (months)"},
   "y": {"field": "s", "type": "quantitative", "title": "Overall survival (%)"},
   "color": {"field": "series", "type": "nominal", "legend": null, "scale": {"domain": ["Score 0","Score 1-3","Score 4-6","Score 7-9"], "range": ["#2e8b4a","#c69c52","#f26522","#d2237c"]}}
  }},
 {"data": {"values": [{"cut": 60}]}, "mark": {"type": "rule", "color": "black", "strokeWidth": 2.5, "strokeDash": [8, 5]},
  "encoding": {"x": {"field": "cut", "type": "quantitative", "title": "Time (months)"}, "y": {"datum": 0, "type": "quantitative"}, "y2": {"datum": 108}}},
 {"data": {"name": "Bl"}, "mark": {"type": "point", "shape": "M-1,0L1,0", "filled": false, "size": 400, "strokeWidth": 3.5, "opacity": 1},
  "encoding": {"x": {"datum": 72.9, "type": "quantitative"}, "y": {"field": "level", "type": "quantitative", "title": "Overall survival (%)"}, "stroke": {"field": "series", "type": "nominal", "legend": null}}},
 {"data": {"name": "Bl"}, "mark": {"type": "point", "shape": "M0,-1L0,0", "filled": false, "size": 121, "strokeWidth": 1.5, "opacity": 1},
  "encoding": {"x": {"datum": 72.9, "type": "quantitative"}, "y": {"field": "level", "type": "quantitative", "title": "Overall survival (%)"}, "color": {"field": "series", "type": "nominal", "legend": null}}},
 {"data": {"name": "Bl"}, "mark": {"type": "text", "align": "left", "baseline": "middle", "fontSize": 19, "color": "black"},
  "encoding": {"x": {"datum": 75.6, "type": "quantitative"}, "y": {"field": "level", "type": "quantitative", "title": "Overall survival (%)"}, "text": {"field": "series", "type": "nominal"}}},
 {"data": {"values": [{"panel": "B"}]}, "mark": {"type": "text", "align": "center", "baseline": "middle", "fontSize": 30, "color": "black", "dx": -62, "dy": 48},
  "encoding": {"x": {"datum": 0, "type": "quantitative"}, "y": {"datum": 0, "type": "quantitative"}, "text": {"field": "panel", "type": "nominal"}}}
]
},
{
"title": {"text": "Model 2 system", "offset": 10},
"width": 562, "height": 372,
"layer": [
 {"data": {"name": "C"}, "mark": {"type": "area", "interpolate": "step-after", "opacity": 0.85},
  "encoding": {
   "x": {"field": "t", "type": "quantitative", "title": "Time (months)", "scale": {"domain": [0, 70], "nice": false}, "axis": {"values": [0,10,20,30,40,50,60,70], "labelFlush": false, "labelPadding": 4, "titlePadding": 4}},
   "y": {"field": "lo", "type": "quantitative", "title": "Overall survival (%)", "stack": null, "scale": {"domain": [0, 110], "nice": false}, "axis": {"values": [0,20,40,60,80,100], "labelPadding": 3, "titlePadding": 5}},
   "y2": {"field": "hi"},
   "fill": {"field": "series", "type": "nominal", "legend": null, "scale": {"domain": ["Score 0","Score 1-2","Score 3-4","Score 5-6"], "range": ["#9cc2ea","#f39c9a","#5dbb3f","#9a32a0"]}}
  }},
 {"data": {"name": "C"}, "mark": {"type": "line", "interpolate": "step-after", "strokeWidth": 2.5},
  "encoding": {
   "x": {"field": "t", "type": "quantitative", "title": "Time (months)"},
   "y": {"field": "s", "type": "quantitative", "title": "Overall survival (%)"},
   "stroke": {"field": "series", "type": "nominal", "legend": null, "scale": {"domain": ["Score 0","Score 1-2","Score 3-4","Score 5-6"], "range": ["#2145a5","#e4241d","#1c6a35","#5b1a63"]}}
  }},
 {"data": {"name": "Cc"}, "mark": {"type": "point", "shape": "M0,-1L0,0", "filled": false, "size": 121, "strokeWidth": 1.5, "opacity": 1},
  "encoding": {
   "x": {"field": "t", "type": "quantitative", "title": "Time (months)"},
   "y": {"field": "s", "type": "quantitative", "title": "Overall survival (%)"},
   "color": {"field": "series", "type": "nominal", "legend": null, "scale": {"domain": ["Score 0","Score 1-2","Score 3-4","Score 5-6"], "range": ["#2f9a7a","#e4241d","#e8a030","#e070b0"]}}
  }},
 {"data": {"values": [{"cut": 60}]}, "mark": {"type": "rule", "color": "black", "strokeWidth": 2.5, "strokeDash": [8, 5]},
  "encoding": {"x": {"field": "cut", "type": "quantitative", "title": "Time (months)"}, "y": {"datum": 0, "type": "quantitative"}, "y2": {"datum": 108}}},
 {"data": {"name": "Cl"}, "mark": {"type": "point", "shape": "M-1,0L1,0", "filled": false, "size": 400, "strokeWidth": 3.5, "opacity": 1},
  "encoding": {"x": {"datum": 72.95, "type": "quantitative"}, "y": {"field": "level", "type": "quantitative", "title": "Overall survival (%)"}, "stroke": {"field": "series", "type": "nominal", "legend": null}}},
 {"data": {"name": "Cl"}, "mark": {"type": "point", "shape": "M0,-1L0,0", "filled": false, "size": 121, "strokeWidth": 1.5, "opacity": 1},
  "encoding": {"x": {"datum": 72.95, "type": "quantitative"}, "y": {"field": "level", "type": "quantitative", "title": "Overall survival (%)"}, "color": {"field": "series", "type": "nominal", "legend": null}}},
 {"data": {"name": "Cl"}, "mark": {"type": "text", "align": "left", "baseline": "middle", "fontSize": 19, "color": "black"},
  "encoding": {"x": {"datum": 75.8, "type": "quantitative"}, "y": {"field": "level", "type": "quantitative", "title": "Overall survival (%)"}, "text": {"field": "series", "type": "nominal"}}},
 {"data": {"values": [{"panel": "C"}]}, "mark": {"type": "text", "align": "center", "baseline": "middle", "fontSize": 30, "color": "black", "dx": -60, "dy": 48},
  "encoding": {"x": {"datum": 0, "type": "quantitative"}, "y": {"datum": 0, "type": "quantitative"}, "text": {"field": "panel", "type": "nominal"}}}
]
}
]
}
]
}
